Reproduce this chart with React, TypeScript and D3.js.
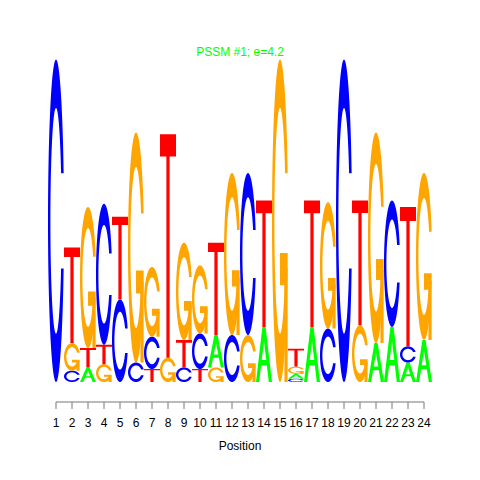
import React from "react";
import * as d3 from "d3";

const positions = d3.range(1, 25);
// each column: letters bottom-to-top with heights in bits
const columns: [string, number][][] = [
  [["C", 1.99]],
  [["C", 0.07], ["G", 0.17], ["T", 0.59]],
  [["A", 0.09], ["T", 0.12], ["G", 0.87]],
  [["G", 0.11], ["T", 0.12], ["C", 0.87]],
  [["C", 0.51], ["T", 0.51]],
  [["C", 0.12], ["G", 1.42]],
  [["T", 0.08], ["C", 0.2], ["G", 0.43]],
  [["G", 0.15], ["T", 1.38]],
  [["C", 0.09], ["T", 0.17], ["G", 0.6]],
  [["T", 0.08], ["C", 0.22], ["G", 0.42]],
  [["G", 0.09], ["A", 0.2], ["T", 0.57]],
  [["C", 0.29], ["G", 1.0]],
  [["G", 0.29], ["C", 1.0]],
  [["A", 0.34], ["T", 0.78]],
  [["G", 1.99]],
  [["C", 0.02], ["A", 0.03], ["G", 0.045], ["T", 0.11]],
  [["A", 0.34], ["T", 0.78]],
  [["C", 0.33], ["G", 0.78]],
  [["C", 1.99]],
  [["G", 0.35], ["T", 0.77]],
  [["A", 0.24], ["G", 1.3]],
  [["A", 0.34], ["C", 0.78]],
  [["A", 0.12], ["C", 0.1], ["T", 0.86]],
  [["A", 0.26], ["G", 1.03]],
];
const letterColors: Record<string, string> = {
  A: "#00ff00",
  C: "#0000ff",
  G: "#ffa500",
  T: "#ff0000",
};
const title = "PSSM #1; e=4.2";
const xLabel = "Position";

const FONT = "'Liberation Sans', Arial, Helvetica, sans-serif";

type Pt = [number, number];

// unit-square letter shapes (x right, y up)
function cRing(): Pt[] {
  const n = 100;
  const a1 = d3.range(n).map((i) => 0.3 + Math.PI / 2 + (i * (Math.PI - (0.3 + Math.PI / 2))) / (n - 1));
  const a2 = d3.range(n).map((i) => Math.PI + (i * (Math.PI / 2)) / (n - 1));
  const xl = [...a1, ...a2].map((a) => 0.5 + 0.5 * Math.sin(a));
  const yl = [...a1, ...a2].map((a) => 0.5 + 0.5 * Math.cos(a));
  const hmax = d3.max(a1.map((a) => 0.5 + 0.5 * Math.cos(a)))!;
  const outerX = [...xl, ...xl.slice().reverse()];
  const outerY = [...yl, ...yl.slice().reverse().map((v) => 1 - v)];
  let xi1 = a1.map((a) => 0.5 + 0.35 * Math.sin(a));
  let yi1 = a1.map((a) => 0.5 + 0.35 * Math.cos(a));
  const keep = yi1.map((v) => v <= hmax);
  xi1 = xi1.filter((_, i) => keep[i]);
  yi1 = yi1.filter((_, i) => keep[i]);
  yi1[0] = hmax;
  const xi2 = a2.map((a) => 0.5 + 0.35 * Math.sin(a));
  const yi2 = a2.map((a) => 0.5 + 0.35 * Math.cos(a));
  const xi = [...xi1, ...xi2];
  const yi = [...yi1, ...yi2];
  const innerX = [...xi, ...xi.slice().reverse()];
  const innerY = [...yi, ...yi.slice().reverse().map((v) => 1 - v)];
  const X = [...outerX, ...innerX.slice().reverse()];
  const Y = [...outerY, ...innerY.slice().reverse()];
  return X.map((v, i) => [v, Y[i]] as Pt);
}
const r1 = 0.5 + 0.5 * Math.sin(0.3 + Math.PI / 2);
const shapes: Record<string, { polys: Pt[][]; holes?: Pt[][] }> = {
  A: {
    polys: [
      [[0, 0], [0.4, 1], [0.6, 1], [1, 0], [0.8, 0], [0.68, 0.3], [0.32, 0.3], [0.2, 0], [0, 0]],
    ],
    holes: [[[0.36, 0.4], [0.5, 0.75], [0.64, 0.4], [0.36, 0.4]]],
  },
  C: { polys: [cRing()] },
  G: {
    polys: [
      cRing(),
      [[r1, 0.4], [0.5, 0.4], [0.5, 0.3], [r1 - 0.2, 0.3], [r1 - 0.2, 0], [r1, 0], [r1, 0.4]],
    ],
  },
  T: {
    polys: [[[0, 1], [1, 1], [1, 0.9], [0.6, 0.9], [0.6, 0], [0.4, 0], [0.4, 0.9], [0, 0.9]]],
  },
};

export default function App() {
  const x = d3.scaleLinear().domain([1, 24]).range([56, 424]);
  const y = d3.scaleLinear().domain([0, 2]).range([382, 58]);
  const colW = x(2) - x(1);

  const glyphs: React.ReactNode[] = [];
  columns.forEach((col, i) => {
    const pos = positions[i];
    let acc = 0;
    col.forEach(([L, h], j) => {
      const yb = y(acc);
      const yt = y(acc + h);
      acc += h;
      const bx = x(pos) - colW / 2;
      const sx = d3.scaleLinear().domain([0, 1]).range([bx, bx + colW]);
      const sy = d3.scaleLinear().domain([0, 1]).range([yb, yt]);
      const line = d3
        .line<Pt>()
        .x((p) => sx(p[0]))
        .y((p) => sy(p[1]))
        .curve(d3.curveLinearClosed);
      const shp = shapes[L];
      shp.polys.forEach((poly, k) => {
        glyphs.push(
          <path key={`${i}-${j}-${k}`} d={line(poly) || ""} fill={letterColors[L]} stroke="none" />
        );
      });
      (shp.holes || []).forEach((poly, k) => {
        glyphs.push(<path key={`${i}-${j}-h${k}`} d={line(poly) || ""} fill="#fff" stroke="none" />);
      });
    });
  });

  const axisY = 402;
  return (
    <svg
      width={480}
      height={480}
      style={{ position: "absolute", left: 0, top: 0, background: "#fff" }}
      fontFamily={FONT}
    >
      <rect width={480} height={480} fill="#fff" />
      <text x={240} y={56} textAnchor="middle" fontSize={12} fill="#00ff00">
        {title}
      </text>
      {glyphs}
      <line x1={x(1)} x2={x(24)} y1={axisY} y2={axisY} stroke="#777" strokeWidth={1} />
      {positions.map((p) => (
        <g key={p}>
          <line x1={x(p)} x2={x(p)} y1={axisY} y2={axisY + 7} stroke="#777" strokeWidth={1} />
          <text x={x(p)} y={427} textAnchor="middle" fontSize={12} fill="#000">
            {p}
          </text>
        </g>
      ))}
      <text x={240} y={450} textAnchor="middle" fontSize={12} fill="#000">
        {xLabel}
      </text>
    </svg>
  );
}
